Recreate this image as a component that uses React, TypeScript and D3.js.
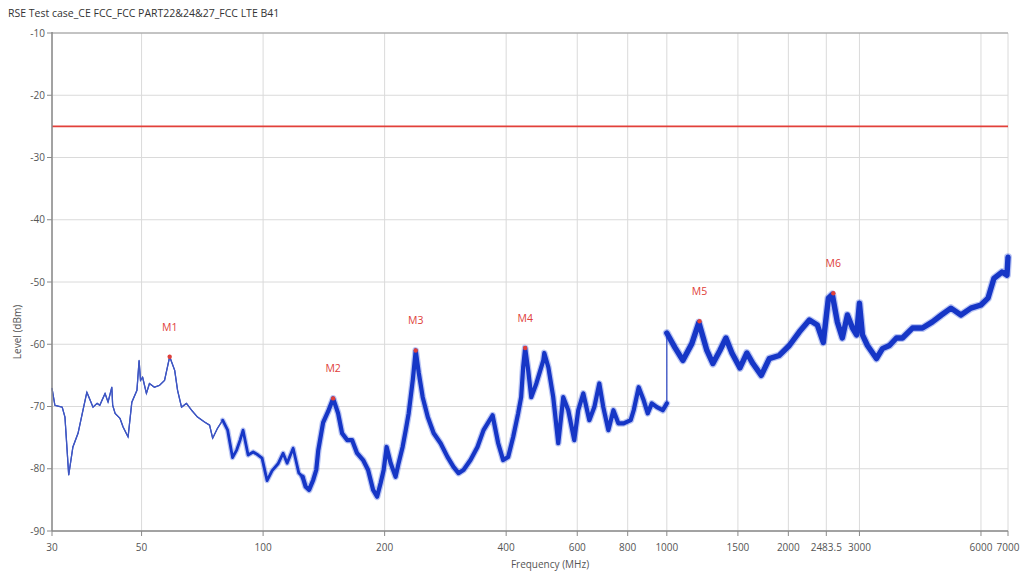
import React from "react";
import * as d3 from "d3";

const TITLE = "RSE Test case_CE FCC_FCC PART22&24&27_FCC LTE B41";
const X_LABEL = "Frequency (MHz)";
const Y_LABEL = "Level (dBm)";

const X_TICKS = [30, 50, 100, 200, 400, 600, 800, 1000, 1500, 2000, 2483.5, 3000, 6000, 7000];
const Y_TICKS = [-10, -20, -30, -40, -50, -60, -70, -80, -90];

const LIMIT_DBM = -25;

const MARKER_NAMES = ["M1", "M2", "M3", "M4", "M5", "M6"];
const MARKER_FREQ = [58.7, 149.1, 238.8, 445.8, 1205, 2585];
const MARKER_LEVEL = [-62.0, -68.7, -61.0, -60.6, -56.3, -51.8];

// [frequency MHz, level dBm]
const TRACE_POINTS: [number, number][] = [
  [30, -67.1], [30.5, -69.8], [31.8, -70.1], [32.3, -71.7], [33.0, -81.0], [33.8, -76.5],
  [34.8, -74.3], [35.8, -70.6], [36.6, -67.7], [37.3, -69.0], [37.9, -70.1], [38.8, -69.5],
  [39.4, -69.8], [40.6, -67.9], [41.3, -69.3], [42.2, -66.9], [42.4, -69.8], [43.0, -71.1],
  [44.2, -71.9], [45.0, -73.3], [46.3, -74.9], [47.3, -69.3], [48.7, -67.4], [49.3, -62.6],
  [49.7, -65.8], [50.3, -65.3], [51.4, -67.9], [52.3, -66.3], [53.8, -66.9], [55.4, -66.6],
  [57.0, -65.8], [58.7, -62.0], [60.4, -64.2], [61.4, -67.4], [62.8, -70.1], [64.6, -69.5],
  [66.5, -70.6], [68.8, -71.7], [71.6, -72.5], [73.7, -73.0], [75.0, -75.1], [77.1, -73.5],
  [79.4, -72.2], [81.7, -73.8], [84.0, -78.2], [86.0, -77.0], [87.7, -75.4], [89.2, -73.8],
  [91.8, -77.8], [94.5, -77.3], [97.2, -77.8], [99.4, -78.3], [102.3, -81.9], [105.3, -80.3],
  [108.9, -79.2], [112.1, -77.5], [114.7, -79.1], [118.7, -76.7], [122.6, -80.7], [125.3, -81.3],
  [127.5, -82.9], [130.0, -83.4], [133.1, -81.8], [135.4, -80.2], [137.0, -77.0], [140.8, -72.6],
  [144.9, -70.8], [149.1, -68.7], [153.4, -71.1], [156.9, -74.3], [161.5, -75.4], [166.1, -75.4],
  [170.9, -77.5], [176.9, -78.6], [182.0, -80.2], [187.3, -83.4], [191.6, -84.5], [195.5, -82.3],
  [198.9, -80.2], [202.3, -76.5], [207.0, -79.1], [212.9, -81.3], [216.6, -79.1], [221.6, -76.5],
  [225.6, -73.8], [229.4, -71.1], [234.8, -65.8], [238.8, -61.0], [243.0, -64.6], [248.5, -68.5],
  [255.8, -71.7], [264.6, -74.3], [275.2, -75.9], [286.2, -78.1], [296.2, -79.7], [304.8, -80.7],
  [313.6, -80.2], [326.4, -78.6], [339.6, -76.5], [351.6, -73.8], [370.2, -71.4], [382.2, -75.9],
  [393.2, -78.6], [404.6, -78.1], [416.3, -74.9], [428.3, -71.1], [435.7, -68.5], [440.7, -63.7],
  [445.8, -60.6], [453.6, -64.2], [461.6, -68.5], [475.2, -66.3], [494.4, -62.6], [497.2, -61.4],
  [508.8, -63.7], [523.2, -68.5], [538.4, -75.9], [554.0, -68.5], [570.0, -70.6], [589.8, -75.4],
  [603.4, -70.6], [621.1, -67.9], [642.8, -72.2], [661.4, -70.1], [680.4, -66.3], [696.0, -70.1],
  [716.4, -73.8], [737.4, -70.6], [758.4, -72.7], [782.0, -72.7], [813.8, -72.2], [827.9, -70.6],
  [851.8, -66.9], [876.4, -69.0], [896.8, -71.1], [918, -69.5], [945, -70.1], [977.5, -70.6],
  [1000, -69.5], [1000, -58.2], [1046.7, -60.5], [1095.7, -62.6], [1153.4, -59.9], [1200.6, -56.5],
  [1256.6, -61.0], [1300.6, -63.1], [1353.7, -61.0], [1401, -59.0], [1449.6, -61.4], [1517.6, -63.8],
  [1579, -61.4], [1634, -63.1], [1714, -65.0], [1794, -62.3], [1899, -61.8], [2011, -60.2],
  [2130, -58.0], [2255, -56.1], [2359, -56.9], [2441, -59.7], [2513, -52.6], [2570, -52.0],
  [2644, -56.4], [2721, -59.0], [2801, -55.3], [2884, -57.4], [2951, -58.5], [3000, -53.4],
  [3052, -58.5], [3140, -60.2], [3305, -62.3], [3421, -60.7], [3560, -60.2], [3704, -59.0],
  [3834, -59.0], [4059, -57.4], [4297, -57.4], [4549, -56.4], [4788, -55.3], [5056, -54.2],
  [5352, -55.3], [5666, -54.2], [6000, -53.7], [6245, -52.6], [6462, -49.4], [6764, -48.4],
  [6960, -48.9], [7000, -46.0],
];

// frequency bands (MHz) and the trace thickness used in each
const BAND_EDGES = [30, 78, 125, 1000, 7000];
const BAND_WIDTHS = [1.3, 2.8, 4.2, 5.4];

const W = 1021;
const H = 577;
const M = { left: 52, right: 13, top: 33, bottom: 46 };

const FONT = "'Open Sans', 'DejaVu Sans', sans-serif";

export default function App() {
  const x = d3.scaleLog().domain([30, 7000]).range([M.left, W - M.right]);
  const y = d3.scaleLinear().domain([-90, -10]).range([H - M.bottom, M.top]);

  const line = d3
    .line<[number, number]>()
    .x((d) => x(d[0]))
    .y((d) => y(d[1]));

  const jumpIdx = TRACE_POINTS.findIndex((d, i) => i > 0 && d[0] === TRACE_POINTS[i - 1][0]);

  const segments = BAND_WIDTHS.map((w, b) => {
    const lo = BAND_EDGES[b];
    const hi = BAND_EDGES[b + 1];
    let pts = TRACE_POINTS.filter((d, i) => {
      if (b === 2) return d[0] >= lo && i < jumpIdx;
      if (b === 3) return i >= jumpIdx;
      return d[0] >= lo && d[0] <= hi;
    });
    const lastIdx = TRACE_POINTS.indexOf(pts[pts.length - 1]);
    if (b < 2 && lastIdx + 1 < TRACE_POINTS.length) pts = [...pts, TRACE_POINTS[lastIdx + 1]];
    return { pts, w };
  });

  const x0 = M.left;
  const x1 = W - M.right;
  const y0 = M.top;
  const y1 = H - M.bottom;

  return (
    <svg
      width={W}
      height={H}
      style={{ position: "absolute", left: 0, top: 0, background: "#fff" }}
      fontFamily={FONT}
    >
      <rect x={0} y={0} width={W} height={H} fill="#fff" />
      <text x={8} y={17} fontSize={10.5} fill="#333">
        {TITLE}
      </text>

      {/* grid */}
      {Y_TICKS.map((t) => (
        <line key={"gy" + t} x1={x0} x2={x1} y1={y(t)} y2={y(t)} stroke="#dadada" strokeWidth={1} />
      ))}
      {X_TICKS.map((t) => (
        <line key={"gx" + t} x1={x(t)} x2={x(t)} y1={y0} y2={y1} stroke="#dadada" strokeWidth={1} />
      ))}
      <line x1={x0} x2={x1} y1={y0} y2={y0} stroke="#9a9a9a" strokeWidth={1} />

      {/* limit line */}
      <line x1={x0} x2={x1} y1={y(LIMIT_DBM)} y2={y(LIMIT_DBM)} stroke="#e2403a" strokeWidth={1.6} />

      {/* trace */}
      <path d={line(TRACE_POINTS) || ""} fill="none" stroke="#2a45c4" strokeWidth={1.2} />
      {segments.map((s, i) =>
        i === 0 ? null : (
          <path
            key={"halo" + i}
            d={line(s.pts) || ""}
            fill="none"
            stroke="#3b5be0"
            strokeOpacity={0.35}
            strokeWidth={s.w + 2.5}
            strokeLinejoin="round"
            strokeLinecap="round"
          />
        )
      )}
      {segments.map((s, i) => (
        <path
          key={"seg" + i}
          d={line(s.pts) || ""}
          fill="none"
          stroke={i === 0 ? "#3f57c2" : "#1636c6"}
          strokeWidth={s.w}
          strokeLinejoin="round"
          strokeLinecap="round"
        />
      ))}

      {/* markers */}
      {MARKER_NAMES.map((n, i) => (
        <g key={n}>
          <circle cx={x(MARKER_FREQ[i])} cy={y(MARKER_LEVEL[i])} r={2.2} fill="#e0403a" />
          <text
            x={x(MARKER_FREQ[i])}
            y={y(MARKER_LEVEL[i]) - 26}
            fontSize={10.5}
            fill="#e0403a"
            textAnchor="middle"
          >
            {n}
          </text>
        </g>
      ))}

      {/* axes */}
      <line x1={x0} x2={x0} y1={y0 - 1} y2={y1} stroke="#8a8a8a" strokeWidth={1.5} />
      <line x1={x0} x2={x1} y1={y1} y2={y1} stroke="#8a8a8a" strokeWidth={1.5} />
      {Y_TICKS.map((t) => (
        <g key={"ty" + t}>
          <line x1={x0 - 5} x2={x0} y1={y(t)} y2={y(t)} stroke="#8a8a8a" strokeWidth={1} />
          <text x={x0 - 7} y={y(t) + 3.5} fontSize={10} fill="#555" textAnchor="end">
            {t}
          </text>
        </g>
      ))}
      {X_TICKS.map((t) => (
        <g key={"tx" + t}>
          <line x1={x(t)} x2={x(t)} y1={y1} y2={y1 + 5} stroke="#8a8a8a" strokeWidth={1} />
          <text x={x(t)} y={y1 + 20} fontSize={10} fill="#555" textAnchor="middle">
            {t}
          </text>
        </g>
      ))}
      <text x={550} y={568} fontSize={10} fill="#555" textAnchor="middle">
        {X_LABEL}
      </text>
      <text
        transform={`translate(21, 332) rotate(-90)`}
        fontSize={10}
        fill="#555"
        textAnchor="middle"
      >
        {Y_LABEL}
      </text>
    </svg>
  );
}
